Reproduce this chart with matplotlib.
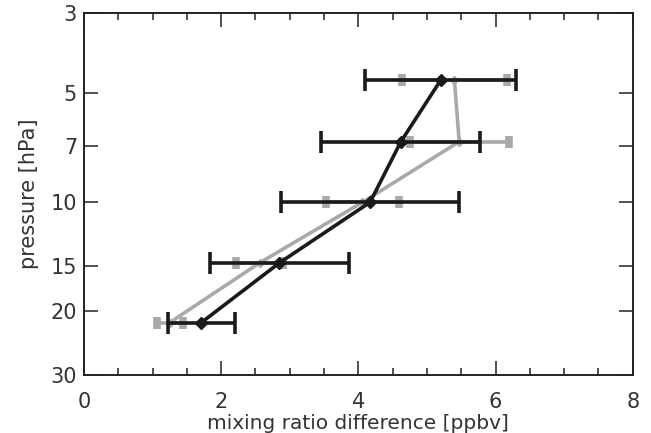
import matplotlib
matplotlib.use("Agg")
import matplotlib.pyplot as plt
from matplotlib.ticker import FixedLocator, NullLocator, MultipleLocator

# ── data ──────────────────────────────────────────────────────────────────────
pressure   = [4.6, 6.8, 10.0, 14.7, 21.5]          # hPa
black_x    = [5.20, 4.62, 4.17, 2.85, 1.71]        # ppbv
black_err  = [1.10, 1.16, 1.30, 1.01, 0.49]
gray_x     = [5.40, 5.47, 4.06, 2.56, 1.25]
gray_err   = [0.76, 0.72, 0.53, 0.34, 0.19]
y_ticks    = [3, 5, 7, 10, 15, 20, 30]

plt.rcParams["font.family"] = ["DejaVu Sans"]
txt = "#333333"

fig = plt.figure(figsize=(6.51, 4.33), dpi=100)
ax = fig.add_axes([0.129, 0.134, 0.843, 0.836])

# gray series (underneath)
ax.errorbar(gray_x, pressure, xerr=gray_err, color="#a9a9a9", lw=2.6,
            marker="D", ms=4, elinewidth=2.6, capsize=4.5, capthick=5.5, zorder=2)
# black series
ax.errorbar(black_x, pressure, xerr=black_err, color="#1a1a1a", lw=2.6,
            marker="D", ms=6.5, elinewidth=2.6, capsize=8, capthick=2.6, zorder=3)

ax.set_yscale("log")
ax.set_ylim(30, 3)
ax.set_xlim(0, 8)
ax.yaxis.set_major_locator(FixedLocator(y_ticks))
ax.yaxis.set_minor_locator(NullLocator())
ax.set_yticklabels([str(t) for t in y_ticks])
ax.xaxis.set_major_locator(MultipleLocator(2))
ax.xaxis.set_minor_locator(MultipleLocator(0.5))

ax.tick_params(which="both", direction="in", top=True, right=True,
               labelsize=15, labelcolor=txt, color="#333333", width=1.2)
ax.tick_params(which="major", length=10)
ax.tick_params(which="minor", length=5)
ax.tick_params(axis="x", which="major", pad=12)
ax.tick_params(axis="y", which="major", pad=5)
for s in ax.spines.values():
    s.set_linewidth(1.4)
    s.set_color("#222222")

ax.set_xlabel("mixing ratio difference [ppbv]", fontsize=14.5, color=txt, labelpad=2)
ax.set_ylabel("pressure [hPa]", fontsize=15, color=txt, labelpad=8)

fig.savefig("out.png", dpi=100)
